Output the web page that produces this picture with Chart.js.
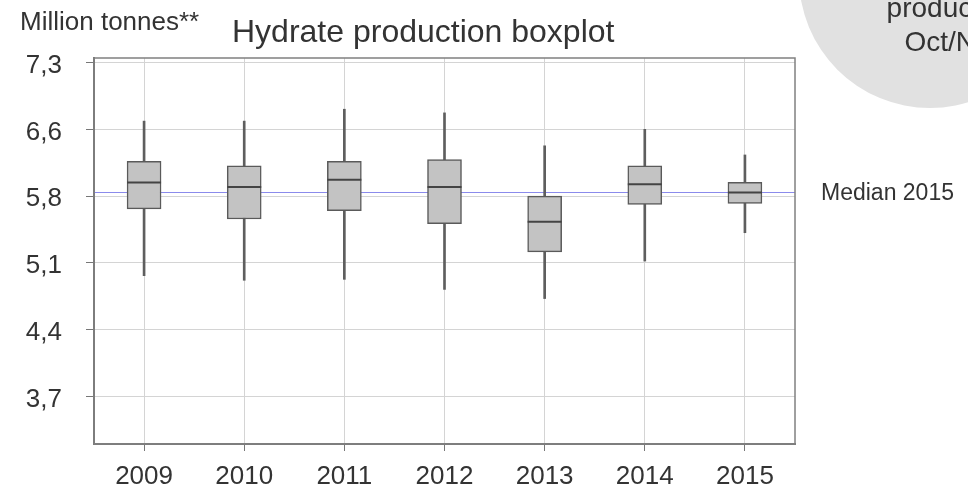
<!DOCTYPE html>
<html>
<head>
<meta charset="utf-8">
<script src="https://cdn.jsdelivr.net/npm/chart.js@4.4.1/dist/chart.umd.min.js"></script>
<style>
  html, body { margin: 0; padding: 0; background: #ffffff; }
  #wrap { width: 968px; height: 492px; position: relative; }
</style>
</head>
<body>
<div id="wrap"><canvas id="chart"></canvas></div>
<script>
// Yearly hydrate production distribution (million tonnes)
const years        = ['2009', '2010', '2011', '2012', '2013', '2014', '2015'];
const whiskerLow   = [4.97, 4.92, 4.93, 4.82, 4.72, 5.13, 5.44];
const quartile1    = [5.70, 5.59, 5.68, 5.54, 5.23, 5.75, 5.76];
const medians      = [5.99, 5.94, 6.02, 5.94, 5.56, 5.97, 5.88];
const quartile3    = [6.22, 6.17, 6.22, 6.24, 5.84, 6.17, 5.99];
const whiskerHigh  = [6.66, 6.66, 6.79, 6.75, 6.39, 6.57, 6.29];

// Value axis ticks and their printed labels
const tickValues = [3.65, 4.38, 5.11, 5.84, 6.57, 7.30];
const tickLabels = ['3,7', '4,4', '5,1', '5,8', '6,6', '7,3'];

const FONT = "'Liberation Sans', Arial, sans-serif";
const TEXT = '#333333';
const medianLatest = medians[medians.length - 1];

// Frame, reference line and free text around the plot
const decorations = {
  id: 'decorations',
  beforeDraw(chart) {
    const ctx = chart.ctx;
    ctx.save();
    ctx.fillStyle = '#e1e1e1';
    ctx.beginPath();
    ctx.arc(930, -23, 131, 0, Math.PI * 2);
    ctx.fill();
    ctx.fillStyle = TEXT;
    ctx.font = '28px ' + FONT;
    ctx.textAlign = 'center';
    ctx.textBaseline = 'alphabetic';
    ctx.fillText('production', 952, 17);
    ctx.fillText('Oct/Nov', 955, 51);
    ctx.restore();
  },
  beforeDatasetsDraw(chart) {
    const { ctx, chartArea: a, scales } = chart;
    const y = scales.y.getPixelForValue(medianLatest);
    ctx.save();
    ctx.strokeStyle = 'rgba(100, 100, 230, 0.75)';
    ctx.lineWidth = 1;
    ctx.beginPath();
    ctx.moveTo(a.left, Math.round(y) + 0.5);
    ctx.lineTo(a.right, Math.round(y) + 0.5);
    ctx.stroke();
    ctx.strokeStyle = '#808080';
    ctx.lineWidth = 1.5;
    ctx.strokeRect(a.left, a.top, a.right - a.left, a.bottom - a.top);
    ctx.restore();
  },
  afterDraw(chart) {
    const { ctx, chartArea: a, scales } = chart;
    ctx.save();
    ctx.fillStyle = TEXT;
    ctx.textAlign = 'left';
    ctx.textBaseline = 'alphabetic';
    ctx.font = '26px ' + FONT;
    ctx.fillText('Million tonnes**', 20, 30);
    ctx.font = '32px ' + FONT;
    ctx.fillText('Hydrate production boxplot', 232, 42);
    ctx.font = '23px ' + FONT;
    ctx.textBaseline = 'middle';
    ctx.fillText('Median 2015', a.right + 26, scales.y.getPixelForValue(medianLatest) + 1);
    ctx.restore();
  }
};

new Chart(document.getElementById('chart'), {
  data: {
    labels: years,
    datasets: [
      {
        type: 'line',
        label: 'Median',
        data: medians,
        showLine: false,
        pointStyle: 'line',
        pointRadius: 17,
        pointHoverRadius: 17,
        pointBorderWidth: 2,
        borderColor: '#444444',
        backgroundColor: '#444444'
      },
      {
        type: 'bar',
        label: 'Interquartile range',
        data: years.map((_, i) => [quartile1[i], quartile3[i]]),
        backgroundColor: '#c3c3c3',
        borderColor: '#5a5a5a',
        borderWidth: 1.5,
        borderSkipped: false,
        barThickness: 34,
        grouped: false
      },
      {
        type: 'bar',
        label: 'Range',
        data: years.map((_, i) => [whiskerLow[i], whiskerHigh[i]]),
        backgroundColor: '#5e5e5e',
        borderWidth: 0,
        barThickness: 2,
        grouped: false
      }
    ]
  },
  options: {
    responsive: true,
    maintainAspectRatio: false,
    animation: false,
    devicePixelRatio: 1,
    layout: { padding: { top: 58, right: 173, left: 0, bottom: 0 } },
    plugins: {
      legend: { display: false },
      tooltip: { enabled: false },
      title: { display: false }
    },
    scales: {
      x: {
        type: 'category',
        offset: true,
        grid: { offset: false, color: '#d4d4d4', tickColor: '#777777', tickLength: 7, lineWidth: 1 },
        border: { color: '#777777', width: 2 },
        ticks: { font: { family: FONT, size: 26 }, color: TEXT, padding: 10, maxRotation: 0 },
        afterFit(scale) { scale.height = 48; }
      },
      y: {
        type: 'linear',
        min: 3.13,
        max: 7.35,
        afterBuildTicks(scale) { scale.ticks = tickValues.map(v => ({ value: v })); },
        grid: { color: '#d4d4d4', tickColor: '#777777', tickLength: 8, lineWidth: 1 },
        border: { color: '#777777', width: 2 },
        ticks: {
          font: { family: FONT, size: 26 },
          color: TEXT,
          padding: 24,
          labelOffset: 3,
          callback: (value, index) => tickLabels[index]
        },
        afterFit(scale) { scale.width = 94; }
      }
    }
  },
  plugins: [decorations]
});
</script>
</body>
</html>
